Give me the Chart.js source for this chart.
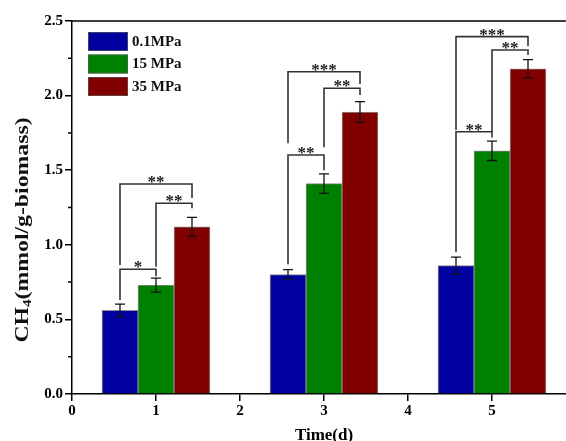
<!DOCTYPE html>
<html>
<head>
<meta charset="utf-8">
<script src="https://cdn.jsdelivr.net/npm/chart.js@4.4.0/dist/chart.umd.min.js"></script>
<style>
  html, body { margin: 0; padding: 0; background: #fff; overflow: hidden; }
  #wrap { width: 566px; height: 441px; overflow: hidden; }
</style>
</head>
<body>
<div id="wrap"><canvas id="ch4Chart" width="600" height="441"></canvas></div>
<script>
"use strict";

const days = [1, 3, 5];
const seriesNames = ["0.1MPa", "15 MPa", "35 MPa"];
const lowPressure = [0.56, 0.80, 0.86];
const midPressure = [0.73, 1.41, 1.63];
const highPressure = [1.12, 1.89, 2.18];
const lowErr = [0.042, 0.034, 0.058];
const midErr = [0.047, 0.065, 0.065];
const highErr = [0.064, 0.07, 0.061];

// significance: day index, left series, right series, bracket level, left leg end, right leg end, stars
const brackets = [
  [0, 0, 1, 0.836, 0.63, 0.79, "*"],
  [0, 1, 2, 1.278, 0.853, 1.245, "**"],
  [0, 0, 2, 1.408, 0.865, 1.314, "**"],
  [1, 0, 1, 1.602, 0.87, 1.50, "**"],
  [1, 1, 2, 2.049, 1.653, 2.004, "**"],
  [1, 0, 2, 2.16, 1.68, 2.078, "***"],
  [2, 0, 1, 1.758, 0.95, 1.72, "**"],
  [2, 1, 2, 2.306, 1.758, 2.272, "**"],
  [2, 0, 2, 2.395, 1.77, 2.33, "***"],
];

const errors = [lowErr, midErr, highErr];
const colors = ["#0000A0", "#008000", "#800000"];
const fontFamily = "'Liberation Serif', 'Times New Roman', serif";

const toPoints = (values) => days.map((d, i) => ({ x: d, y: values[i] }));

const makeDataset = (label, values, color) => ({
  label: label,
  data: toPoints(values),
  backgroundColor: color,
  borderColor: "rgba(90, 90, 90, 0.7)",
  borderWidth: 1,
  barThickness: 36,
});

const errorBars = {
  id: "errorBars",
  afterDatasetsDraw: (chart) => {
    const { ctx, scales } = chart;
    ctx.save();
    ctx.strokeStyle = "#111";
    ctx.lineWidth = 1.3;
    chart.data.datasets.forEach((ds, i) => {
      const meta = chart.getDatasetMeta(i);
      meta.data.forEach((bar, j) => {
        const v = ds.data[j].y;
        const e = errors[i][j];
        const top = scales.y.getPixelForValue(v + e);
        const bot = scales.y.getPixelForValue(v - e);
        ctx.beginPath();
        ctx.moveTo(bar.x, top);
        ctx.lineTo(bar.x, bot);
        ctx.moveTo(bar.x - 5, top);
        ctx.lineTo(bar.x + 5, top);
        ctx.moveTo(bar.x - 5, bot);
        ctx.lineTo(bar.x + 5, bot);
        ctx.stroke();
      });
    });
    ctx.restore();
  },
};

const sigBrackets = {
  id: "sigBrackets",
  afterDatasetsDraw: (chart) => {
    const { ctx, scales } = chart;
    ctx.save();
    ctx.strokeStyle = "#333";
    ctx.lineWidth = 1.6;
    ctx.fillStyle = "#222";
    ctx.font = `bold 17px ${fontFamily}`;
    ctx.textAlign = "center";
    ctx.textBaseline = "alphabetic";
    brackets.forEach(([d, a, b, level, endA, endB, stars]) => {
      const xa = chart.getDatasetMeta(a).data[d].x;
      const xb = chart.getDatasetMeta(b).data[d].x;
      const yl = scales.y.getPixelForValue(level);
      ctx.beginPath();
      ctx.moveTo(xa, scales.y.getPixelForValue(endA));
      ctx.lineTo(xa, yl);
      ctx.lineTo(xb, yl);
      ctx.lineTo(xb, scales.y.getPixelForValue(endB));
      ctx.stroke();
      ctx.fillText(stars, (xa + xb) / 2, yl + 3);
    });
    ctx.restore();
  },
};

const frameExtras = {
  id: "frameExtras",
  afterDraw: (chart) => {
    const { ctx, chartArea, scales } = chart;
    ctx.save();
    ctx.strokeStyle = "#000";
    ctx.lineWidth = 1.5;
    // top frame line
    ctx.beginPath();
    ctx.moveTo(chartArea.left, chartArea.top);
    ctx.lineTo(chartArea.right, chartArea.top);
    ctx.stroke();
    // minor ticks on y
    ctx.beginPath();
    for (let v = 0.25; v < 2.5; v += 0.5) {
      const py = scales.y.getPixelForValue(v);
      ctx.moveTo(chartArea.left - 4, py);
      ctx.lineTo(chartArea.left, py);
    }
    ctx.stroke();

    // legend
    ctx.font = `bold 15px ${fontFamily}`;
    ctx.textBaseline = "middle";
    ctx.textAlign = "left";
    chart.data.datasets.forEach((ds, i) => {
      const bx = 88;
      const by = 32 + i * 22.5;
      ctx.fillStyle = ds.backgroundColor;
      ctx.fillRect(bx, by, 40, 19);
      ctx.lineWidth = 1;
      ctx.strokeStyle = "rgba(90, 90, 90, 0.7)";
      ctx.strokeRect(bx + 0.5, by + 0.5, 39, 18);
      ctx.fillStyle = "#111";
      ctx.fillText(ds.label, bx + 44, by + 10);
    });

    // y axis title with subscript, slightly stretched along its length
    ctx.translate(23, 230);
    ctx.rotate(-Math.PI / 2);
    ctx.scale(1.25, 1);
    ctx.fillStyle = "#111";
    ctx.textBaseline = "middle";
    const big = `bold 19px ${fontFamily}`;
    const small = `bold 12px ${fontFamily}`;
    const parts = [["CH", big, 0], ["4", small, 5], ["(mmol/g-biomass)", big, 0]];
    let total = 0;
    parts.forEach(([t, f]) => { ctx.font = f; total += ctx.measureText(t).width; });
    let cx = -total / 2;
    parts.forEach(([t, f, dy]) => {
      ctx.font = f;
      ctx.fillText(t, cx, dy);
      cx += ctx.measureText(t).width;
    });
    ctx.restore();
  },
};

const ctx = document.getElementById("ch4Chart").getContext("2d");

new Chart(ctx, {
  type: "bar",
  data: {
    datasets: [
      makeDataset(seriesNames[0], lowPressure, colors[0]),
      makeDataset(seriesNames[1], midPressure, colors[1]),
      makeDataset(seriesNames[2], highPressure, colors[2]),
    ],
  },
  options: {
    responsive: false,
    animation: false,
    layout: { padding: { left: 0, top: 21, right: 24, bottom: 0 } },
    plugins: {
      legend: { display: false },
      tooltip: { enabled: false },
    },
    scales: {
      x: {
        type: "linear",
        min: 0,
        max: 6,
        offset: false,
        afterBuildTicks: (scale) => {
          scale.ticks = scale.ticks.filter((t) => t.value <= 5);
        },
        afterFit: (scale) => {
          scale.height = 47;
        },
        ticks: {
          stepSize: 1,
          color: "#000",
          padding: 1,
          font: { family: fontFamily, size: 15, weight: "bold" },
        },
        grid: {
          offset: false,
          drawOnChartArea: false,
          tickLength: 7,
          color: "#000",
          lineWidth: 1.5,
        },
        border: { color: "#000", width: 1.5 },
        title: {
          display: true,
          text: "Time(d)",
          color: "#000",
          padding: { top: 6, bottom: -5 },
          font: { family: fontFamily, size: 17, weight: "bold" },
        },
      },
      y: {
        min: 0,
        max: 2.5,
        afterFit: (scale) => {
          scale.width = 72;
        },
        ticks: {
          stepSize: 0.5,
          color: "#000",
          padding: 2,
          callback: (v) => v.toFixed(1),
          font: { family: fontFamily, size: 15, weight: "bold" },
        },
        grid: {
          drawOnChartArea: false,
          tickLength: 7,
          color: "#000",
          lineWidth: 1.5,
        },
        border: { color: "#000", width: 1.5 },
      },
    },
  },
  plugins: [errorBars, sigBrackets, frameExtras],
});
</script>
</body>
</html>
